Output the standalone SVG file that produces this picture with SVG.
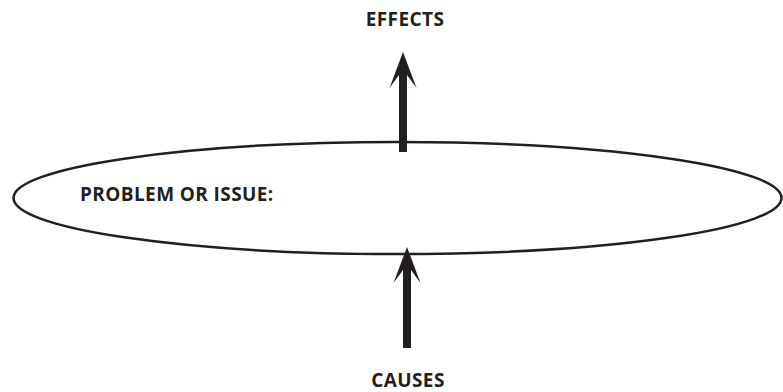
<svg xmlns="http://www.w3.org/2000/svg" width="783" height="392" viewBox="0 0 783 392">
<style>
text{font-family:"Open Sans","Liberation Sans",sans-serif;font-weight:bold;fill:#231f20;font-size:19px;letter-spacing:0.4px}
.arrow{fill:#231f20}
</style>
<rect width="783" height="392" fill="#fff"/>
<g id="problem">
<ellipse cx="397.5" cy="198" rx="384" ry="56" fill="none" stroke="#231f20" stroke-width="2.5"/>
<text x="80" y="201">PROBLEM OR ISSUE:</text>
</g>
<g id="effects"><text x="405" y="26" text-anchor="middle">EFFECTS</text></g>
<g id="causes"><text x="408" y="387" text-anchor="middle">CAUSES</text></g>
<g id="connectors">
<path class="arrow" d="M403,52 L416.5,88 L407,75 L407,152 L399,152 L399,75 L389.5,88 Z"/>
<path class="arrow" d="M407,247 L420.5,283 L411,270 L411,348 L403,348 L403,270 L393.5,283 Z"/>
</g>
</svg>
